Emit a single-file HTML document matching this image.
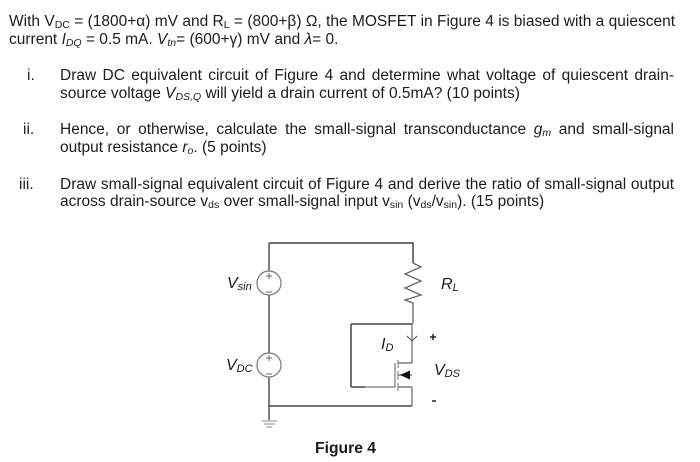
<!DOCTYPE html>
<html><head><meta charset="utf-8"><style>
html,body{margin:0;padding:0;background:#fff}
#p{position:relative;width:700px;height:462px;overflow:hidden;background:#fff;font-family:"Liberation Sans",sans-serif;font-size:15.5px;color:#1c1c1c;filter:blur(.3px)}
.l{position:absolute;height:18px;line-height:18px;white-space:nowrap}
.j{white-space:normal;text-align:justify;text-align-last:justify}
sub{font-size:10.5px;line-height:0;vertical-align:-2px}
i sub{font-style:italic}
svg{position:absolute;left:0;top:0}
svg text{font-family:"Liberation Sans",sans-serif;fill:#1c1c1c}
</style></head><body><div id="p">
<div class="l j" style="left:9px;top:13px;width:666px">With V<sub>DC</sub> = (1800+α) mV and R<sub>L</sub> = (800+β) Ω, the MOSFET in Figure 4 is biased with a quiescent</div>
<div class="l" style="left:9px;top:31px">current <i>I<sub>DQ</sub></i> = 0.5 mA. <i>V<sub>tn</sub></i>= (600+γ) mV and <i>λ</i>= 0.</div>
<div class="l" style="left:27px;top:67px">i.</div>
<div class="l j" style="left:60px;top:67px;width:614px">Draw DC equivalent circuit of Figure 4 and determine what voltage of quiescent drain-</div>
<div class="l" style="left:60px;top:85px">source voltage <i>V<sub>DS,Q</sub></i> will yield a drain current of 0.5mA? (10 points)</div>
<div class="l" style="left:23px;top:121px">ii.</div>
<div class="l j" style="left:60px;top:121px;width:614px">Hence, or otherwise, calculate the small-signal transconductance <i>g<sub>m</sub></i> and small-signal</div>
<div class="l" style="left:60px;top:139px">output resistance <i>r<sub>o</sub></i>. (5 points)</div>
<div class="l" style="left:19px;top:176px">iii.</div>
<div class="l j" style="left:60px;top:176px;width:614px">Draw small-signal equivalent circuit of Figure 4 and derive the ratio of small-signal output</div>
<div class="l" style="left:60px;top:193px">across drain-source v<sub>ds</sub> over small-signal input v<sub>sin</sub> (v<sub>ds</sub>/v<sub>sin</sub>). (15 points)</div>

<svg width="700" height="462" viewBox="0 0 700 462" fill="none">
<g stroke="#555" stroke-width="1.5">
<path d="M269 243H413V263" stroke="#444"/>
<path d="M269 243V271M269 295V353M269 377V420"/>
<path d="M269 406H412" stroke="#444"/>
<circle cx="269" cy="283" r="12" stroke="#777" stroke-width="1.2"/>
<circle cx="269" cy="365" r="12" stroke="#777" stroke-width="1.2"/>
<path d="M413 263L421 267L405 274L421 281L405 288L421 295L405 300L413 303V324" stroke="#666" stroke-width="1.3"/>
<path d="M351 324H412M351 324V387" stroke="#444"/>
<path d="M351 387H365" stroke="#444"/>
<path d="M365 387H395V363" stroke="#777" stroke-width="1.2"/>
<path d="M398 360V368M398 371V380M398 383V391" stroke="#888" stroke-width="1.2"/>
<path d="M412 324V363H398M398 375H412M398 387H412V406" stroke="#666" stroke-width="1.2"/>
<path d="M407 336L412 341L417 336" stroke="#555" stroke-width="1.1"/>
<path d="M262 421H277M264 424H275M266 427H272" stroke="#888" stroke-width="1"/>
</g>
<path d="M400 375L410 370.500V379.500Z" fill="#111"/>
<path d="M266 276H272M269 273V279M266 292H272M266 374H272M266 358H272M269 355V361" stroke="#666" stroke-width="1"/>
<path d="M430 337H436M433 334V340" stroke="#222" stroke-width="1.500"/>
<path d="M432 401H436" stroke="#222" stroke-width="1.500"/>
<text x="227" y="288" font-size="16" font-style="italic">V<tspan font-size="11" dy="2">sin</tspan></text>
<text x="226" y="370" font-size="16" font-style="italic">V<tspan font-size="11" dy="2">DC</tspan></text>
<text x="441" y="289" font-size="16" font-style="italic">R<tspan font-size="11" dy="2">L</tspan></text>
<text x="381" y="349" font-size="16" font-style="italic">I<tspan font-size="11" dy="2">D</tspan></text>
<text x="434" y="375" font-size="16" font-style="italic">V<tspan font-size="11" dy="2">DS</tspan></text>
<text x="315" y="453" font-size="15.700" font-weight="bold">Figure 4</text>
</svg>
</div></body></html>
